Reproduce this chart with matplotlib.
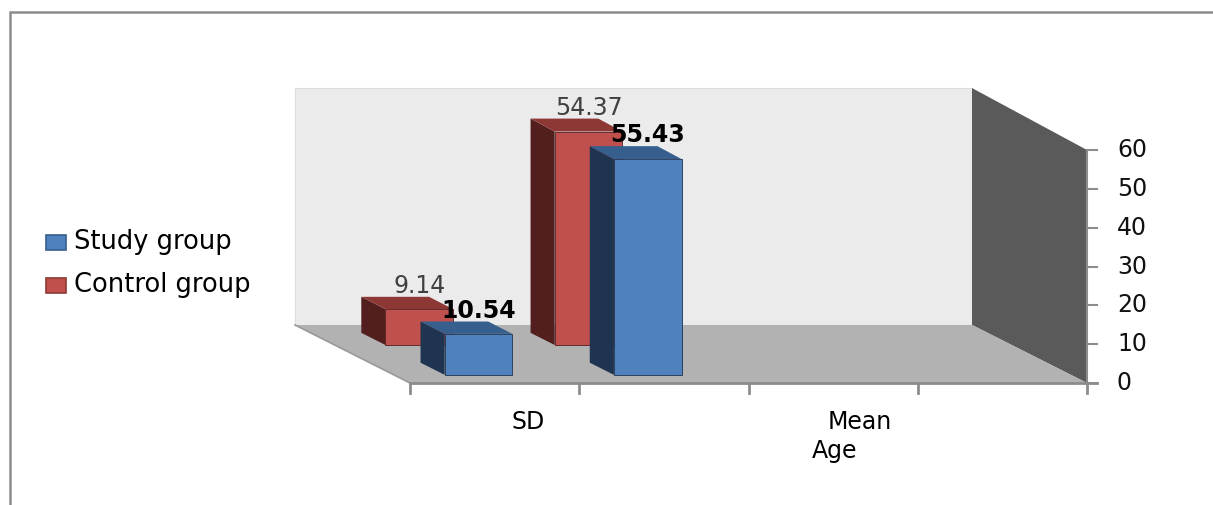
import matplotlib.pyplot as plt
from matplotlib.patches import Polygon

# Age statistics for the two groups
categories = ["SD", "Mean Age"]
study_group = [10.54, 55.43]
control_group = [9.14, 54.37]
value_ticks = [0, 10, 20, 30, 40, 50, 60]

# oblique 3-D box, page units are pixels
ORIGIN = (410, 383)      # front-left corner of the floor
SLOT = 169.25            # width of one category slot
N_SLOTS = 4
DEPTH = (-115, -58)      # shift from front to back of the box
PX_PER_UNIT = 233 / 60
PERSP = 0.017            # back plane drawn a little taller
VMAX = 60


def proj(slot, depth, value):
    x = ORIGIN[0] + slot * SLOT + depth * DEPTH[0]
    y = ORIGIN[1] - value * PX_PER_UNIT * (1 + PERSP * depth) + depth * DEPTH[1]
    return x, y


def face(ax, pts, color, edge=None, lw=0.0, z=1):
    ax.add_patch(Polygon(pts, closed=True, facecolor=color,
                         edgecolor=edge if edge else color, lw=lw, zorder=z))


def bar3d(ax, slot, d0, d1, value, width, colors, z):
    front, side, top = colors
    l, r = slot - width / 2, slot + width / 2
    face(ax, [proj(l, d0, 0), proj(l, d0, value), proj(l, d1, value), proj(l, d1, 0)], side, z=z)
    face(ax, [proj(l, d0, value), proj(r, d0, value), proj(r, d1, value), proj(l, d1, value)], top, z=z)
    face(ax, [proj(l, d0, 0), proj(r, d0, 0), proj(r, d0, value), proj(l, d0, value)], front,
         edge=side, lw=0.6, z=z)


fig = plt.figure(figsize=(12.13, 5.05), dpi=100)
ax = fig.add_axes([0, 0, 1, 1])
ax.set_xlim(0, 1213)
ax.set_ylim(505, 0)
ax.axis('off')

# chart frame
ax.plot([10, 10, 1213], [505, 12, 12], color='#8c8c8c', lw=1.8, solid_joinstyle='miter')

# walls and floor
face(ax, [proj(0, 1, 0), proj(0, 1, VMAX), proj(N_SLOTS, 1, VMAX), proj(N_SLOTS, 1, 0)],
     '#ebebeb', edge='#dcdcdc', lw=0.8)
face(ax, [proj(N_SLOTS, 0, 0), proj(N_SLOTS, 0, VMAX), proj(N_SLOTS, 1, VMAX), proj(N_SLOTS, 1, 0)],
     '#5a5a5a')
face(ax, [proj(0, 0, 0), proj(N_SLOTS, 0, 0), proj(N_SLOTS, 1, 0), proj(0, 1, 0)],
     '#b2b2b2')
fx, fy = proj(0, 0, 0)
bx, by = proj(0, 1, 0)
ax.plot([bx, fx], [by, fy], color='#999999', lw=1.2)

# category axis
ex, ey = proj(N_SLOTS, 0, 0)
ax.plot([fx, ex + 10], [fy, ey], color='#8c8c8c', lw=2)
for i in range(N_SLOTS + 1):
    tx, ty = proj(i, 0, 0)
    ax.plot([tx, tx], [ty, ty + 10], color='#8c8c8c', lw=2)

# value axis on the front edge of the side wall
tx, ty = proj(N_SLOTS, 0, VMAX)
ax.plot([ex, tx], [ey, ty], color='#8c8c8c', lw=1.5)
for v in value_ticks:
    px, py = proj(N_SLOTS, 0, v)
    ax.plot([px, px + 10], [py, py], color='#8c8c8c', lw=1.5)
    ax.text(px + 30, py, str(v), ha='left', va='center', fontsize=17, color='#111111')

# bars: control group in the back row, study group in front
bar_w = 0.40
red = ('#c0504d', '#521e1e', '#8e3836')
blue = ('#4f81bd', '#1f3450', '#375f8e')
rows = [(control_group, 0.655, 0.865, red, 'normal', '#404040'),
        (study_group, 0.14, 0.35, blue, 'bold', '#000000')]
for k, (vals, d0, d1, cols, weight, tcol) in enumerate(rows):
    for i, v in enumerate(vals):
        c = i + 0.5
        bar3d(ax, c, d0, d1, v, bar_w, cols, z=2 + k)
        lx = proj(c, d0, v)[0]
        ly = proj(c, d1, v)[1] - 11
        ax.text(lx, ly, f'{v:.2f}', ha='center', va='center', fontsize=17,
                fontweight=weight, color=tcol, zorder=5)

# category labels
lx, ly = proj(0.70, 0, 0)
ax.text(lx, ly + 39, categories[0], ha='center', va='center', fontsize=17)
word1, word2 = categories[1].split()
lx, ly = proj(2.66, 0, 0)
ax.text(lx, ly + 39, word1, ha='center', va='center', fontsize=17)
lx, ly = proj(2.51, 0, 0)
ax.text(lx, ly + 68, word2, ha='center', va='center', fontsize=17)

# legend
for (name, cols), y in zip([('Study group', blue), ('Control group', red)], [242, 285]):
    ax.add_patch(plt.Rectangle((46, y - 7.5), 20, 15, facecolor=cols[0],
                               edgecolor=cols[2], lw=1.2, zorder=4))
    ax.text(74, y, name, ha='left', va='center', fontsize=18.5)

fig.savefig('out.png', dpi=100)
